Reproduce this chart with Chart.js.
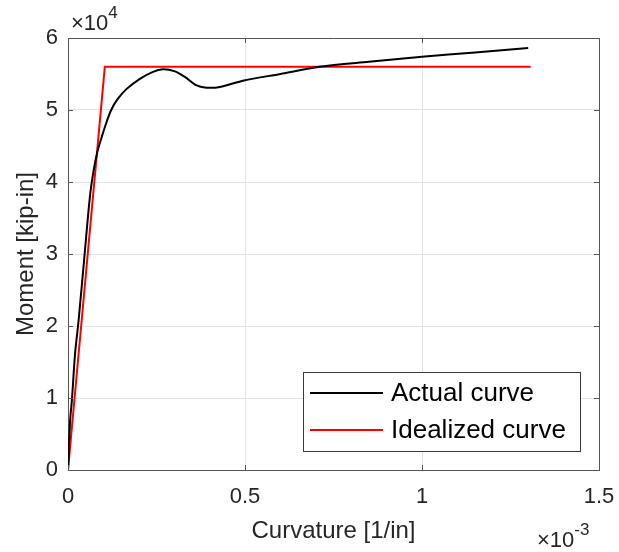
<!DOCTYPE html>
<html>
<head>
<meta charset="utf-8">
<script src="https://cdn.jsdelivr.net/npm/chart.js@4.4.1/dist/chart.umd.min.js"></script>
<style>
  html, body { margin: 0; padding: 0; background: #fff; }
  #wrap { width: 619px; height: 552px; }
</style>
</head>
<body>
<div id="wrap"><canvas id="momentChart" width="619" height="552"></canvas></div>
<script>
// curvature in 10^-3 1/in, moment in 10^4 kip-in
const actualCurvature = [0, 0.006, 0.011, 0.020, 0.030, 0.047, 0.062, 0.072, 0.083, 0.095, 0.108, 0.122, 0.140, 0.165, 0.202, 0.240, 0.268, 0.300, 0.330, 0.360, 0.391, 0.429, 0.497, 0.600, 0.711, 0.850, 1.000, 1.150, 1.300];
const actualMoment    = [0, 0.69, 0.97, 1.62, 2.08, 3.00, 3.80, 4.15, 4.42, 4.62, 4.82, 5.00, 5.15, 5.29, 5.43, 5.53, 5.565, 5.54, 5.46, 5.35, 5.31, 5.32, 5.41, 5.50, 5.60, 5.67, 5.74, 5.80, 5.86];

const idealCurvature = [0, 0.104, 1.307];
const idealMoment    = [0, 5.60, 5.60];

const xTicks = [0, 0.5, 1, 1.5];
const yTicks = [0, 1, 2, 3, 4, 5, 6];

const seriesLabels = ['Actual curve', 'Idealized curve'];
const seriesColors = ['#000000', '#ff0000'];

const toPoints = (xs, ys) => xs.map((x, i) => ({ x: x, y: ys[i] }));

const FONT = "'Liberation Sans', Arial, sans-serif";
const AXIS = '#555555';
const TEXT = '#262626';

// draws "×10" with a superscript exponent starting at (x, baseline)
function expLabel(ctx, x, y, exp) {
    ctx.font = '22px ' + FONT;
    ctx.fillText('\u00d710', x, y);
    const w = ctx.measureText('\u00d710').width;
    ctx.font = '17px ' + FONT;
    ctx.fillText(exp, x + w, y - 12);
}

// Box, inside ticks, exponent labels and legend (MATLAB look)
const matlabDecor = {
    id: 'matlabDecor',
    afterDatasetsDraw(chart) {
        const ctx = chart.ctx;
        const a = chart.chartArea;
        const xs = chart.scales.x, ys = chart.scales.y;
        ctx.save();

        // inside tick marks on all four sides
        ctx.strokeStyle = AXIS;
        ctx.lineWidth = 1;
        ctx.beginPath();
        xTicks.forEach(v => {
            const px = Math.round(xs.getPixelForValue(v)) + 0.5;
            ctx.moveTo(px, a.bottom); ctx.lineTo(px, a.bottom - 5);
            ctx.moveTo(px, a.top); ctx.lineTo(px, a.top + 5);
        });
        yTicks.forEach(v => {
            const py = Math.round(ys.getPixelForValue(v)) + 0.5;
            ctx.moveTo(a.left, py); ctx.lineTo(a.left + 5, py);
            ctx.moveTo(a.right, py); ctx.lineTo(a.right - 5, py);
        });
        ctx.stroke();

        // top & right box edges
        ctx.beginPath();
        ctx.moveTo(a.left, Math.round(a.top) + 0.5);
        ctx.lineTo(a.right, Math.round(a.top) + 0.5);
        ctx.moveTo(Math.round(a.right) + 0.5, a.top);
        ctx.lineTo(Math.round(a.right) + 0.5, a.bottom);
        ctx.stroke();

        // exponent labels
        ctx.fillStyle = TEXT;
        ctx.textBaseline = 'alphabetic';
        ctx.textAlign = 'left';
        expLabel(ctx, a.left + 3, 30, '4');
        expLabel(ctx, a.right - 62, 547, '-3');

        // legend, bottom-right inside the axes
        const bx = a.right - 296, by = a.bottom - 98, bw = 277, bh = 79;
        ctx.fillStyle = '#ffffff';
        ctx.fillRect(bx, by, bw, bh);
        ctx.strokeStyle = '#3a3a3a';
        ctx.strokeRect(bx + 0.5, by + 0.5, bw, bh);
        ctx.font = '26px ' + FONT;
        ctx.textBaseline = 'middle';
        seriesLabels.forEach((lab, i) => {
            const cy = by + 21 + i * 37;
            ctx.strokeStyle = seriesColors[i];
            ctx.lineWidth = 2;
            ctx.beginPath();
            ctx.moveTo(bx + 7, cy); ctx.lineTo(bx + 80, cy);
            ctx.stroke();
            ctx.fillStyle = '#000000';
            ctx.fillText(lab, bx + 88, cy + 1);
        });
        ctx.restore();
    }
};

const ctxMoment = document.getElementById('momentChart').getContext('2d');
new Chart(ctxMoment, {
    type: 'scatter',
    data: {
        datasets: [
            {
                label: seriesLabels[0],
                data: toPoints(actualCurvature, actualMoment),
                showLine: true,
                borderColor: seriesColors[0],
                borderWidth: 2,
                pointRadius: 0,
                tension: 0.3
            },
            {
                label: seriesLabels[1],
                data: toPoints(idealCurvature, idealMoment),
                showLine: true,
                borderColor: seriesColors[1],
                borderWidth: 2,
                pointRadius: 0,
                tension: 0
            }
        ]
    },
    options: {
        responsive: false,
        animation: false,
        layout: { padding: { top: 38, right: 20, left: 0, bottom: 0 } },
        plugins: {
            legend: { display: false },
            tooltip: { enabled: false }
        },
        scales: {
            x: {
                type: 'linear',
                min: 0, max: 1.5,
                afterFit: s => { s.height = 82; s.paddingRight = 0; s.paddingLeft = 0; },
                afterBuildTicks: s => { s.ticks = xTicks.map(v => ({ value: v })); },
                ticks: {
                    color: TEXT,
                    font: { family: FONT, size: 22 },
                    padding: 14,
                    maxRotation: 0,
                    callback: v => String(v)
                },
                grid: { color: '#e3e3e3', drawTicks: false },
                border: { color: AXIS, width: 1 },
                title: {
                    display: true,
                    text: 'Curvature [1/in]',
                    color: TEXT,
                    font: { family: FONT, size: 24 },
                    padding: { top: 0, bottom: 6 }
                }
            },
            y: {
                type: 'linear',
                min: 0, max: 6,
                afterFit: s => { s.width = 68; s.paddingTop = 0; s.paddingBottom = 0; },
                afterBuildTicks: s => { s.ticks = yTicks.map(v => ({ value: v })); },
                ticks: {
                    color: TEXT,
                    font: { family: FONT, size: 22 },
                    padding: 10,
                    callback: v => String(v)
                },
                grid: { color: '#e3e3e3', drawTicks: false },
                border: { color: AXIS, width: 1 },
                title: {
                    display: true,
                    text: 'Moment [kip-in]',
                    color: TEXT,
                    font: { family: FONT, size: 24 },
                    padding: { top: 12, bottom: 0 }
                }
            }
        }
    },
    plugins: [matlabDecor]
});
</script>
</body>
</html>
